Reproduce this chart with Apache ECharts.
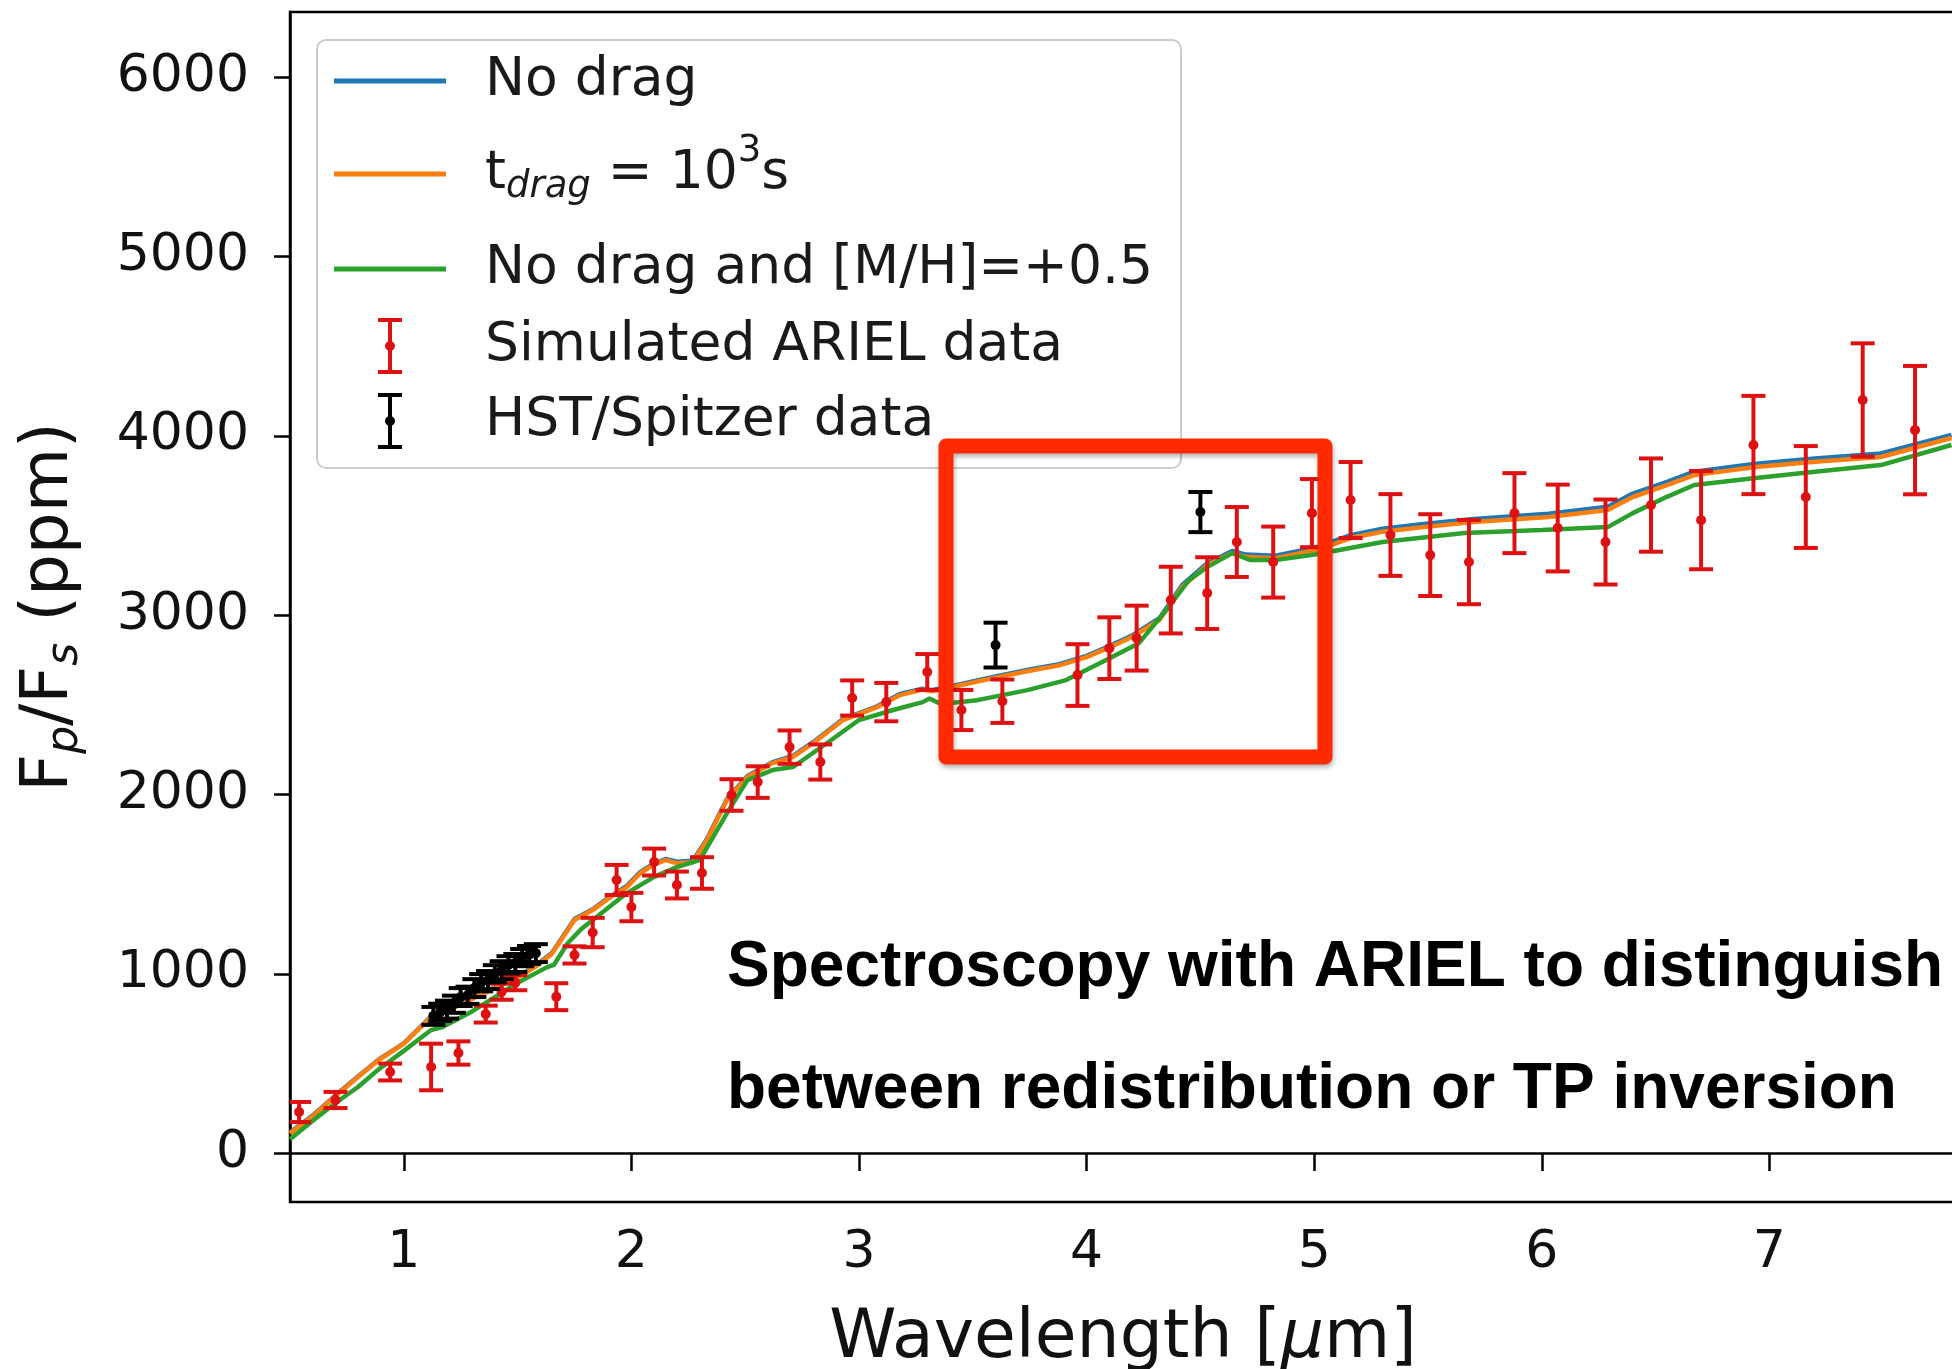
<!DOCTYPE html>
<html>
<head>
<meta charset="utf-8">
<script src="https://cdn.jsdelivr.net/npm/echarts@6/dist/echarts.min.js"></script>
<style>
html,body{margin:0;padding:0;background:#fff;}
#chart{width:1952px;height:1369px;}
</style>
</head>
<body>
<div id="chart"></div>
<script>
// ---------- tick labels ----------
const xTickValues = [1, 2, 3, 4, 5, 6, 7];
const yTickValues = [0, 1000, 2000, 3000, 4000, 5000, 6000];

// ---------- model: No drag (blue) ----------
const noDragWl = [0.50,0.60,0.70,0.80,0.89,1.00,1.12,1.20,1.30,1.40,1.50,1.58,1.65,1.75,1.83,1.90,1.98,2.04,2.10,2.15,2.20,2.27,2.33,2.42,2.51,2.62,2.71,2.80,2.93,3.08,3.18,3.28,3.32,3.41,3.59,3.75,3.88,4.00,4.10,4.20,4.32,4.42,4.53,4.64,4.70,4.83,5.01,5.16,5.30,5.48,5.70,6.03,6.29,6.40,6.55,6.67,6.94,7.20,7.49,7.80];
const noDragFlux = [115,210,322,428,522,612,762,805,866,925,985,1045,1115,1305,1360,1425,1490,1568,1615,1640,1625,1630,1748,1975,2103,2180,2215,2293,2420,2492,2560,2590,2582,2605,2655,2697,2727,2773,2828,2887,2983,3168,3290,3358,3338,3332,3378,3446,3482,3508,3537,3566,3605,3678,3744,3800,3845,3874,3902,4005];

// ---------- model: t_drag = 1e3 s (orange) ----------
const dragWl = [0.50,0.60,0.70,0.80,0.89,1.00,1.12,1.20,1.30,1.40,1.50,1.58,1.65,1.75,1.83,1.90,1.98,2.04,2.10,2.15,2.20,2.27,2.33,2.42,2.51,2.62,2.71,2.80,2.93,3.08,3.18,3.28,3.32,3.41,3.59,3.75,3.88,4.00,4.10,4.20,4.32,4.42,4.53,4.64,4.70,4.83,5.01,5.16,5.30,5.48,5.70,6.03,6.29,6.40,6.55,6.67,6.94,7.20,7.49,7.80];
const dragFlux = [110,205,318,425,519,610,758,800,860,920,980,1040,1110,1300,1355,1420,1483,1562,1610,1634,1617,1622,1740,1969,2097,2175,2209,2287,2415,2487,2554,2585,2575,2599,2649,2690,2720,2766,2820,2878,2973,3157,3279,3346,3324,3318,3363,3430,3465,3491,3519,3547,3586,3659,3725,3781,3826,3855,3882,3988];

// ---------- model: No drag and [M/H]=+0.5 (green) ----------
const metalWl = [0.50,0.60,0.70,0.80,0.886,1.00,1.12,1.17,1.30,1.40,1.50,1.63,1.66,1.72,1.78,1.83,1.98,2.10,2.20,2.30,2.42,2.51,2.62,2.71,2.86,3.00,3.15,3.28,3.31,3.36,3.52,3.74,3.91,4.06,4.23,4.35,4.45,4.53,4.64,4.72,4.83,5.01,5.30,5.66,6.00,6.29,6.40,6.55,6.67,6.94,7.20,7.49,7.80];
const metalFlux = [77,180,279,370,463,570,686,703,790,870,950,1037,1050,1170,1250,1300,1450,1540,1595,1634,1896,2080,2136,2153,2287,2415,2471,2515,2535,2505,2526,2582,2638,2733,2844,3028,3196,3268,3346,3307,3307,3340,3408,3458,3475,3491,3569,3660,3726,3765,3800,3837,3949];

// ---------- simulated ARIEL data (red) ----------
const arielWl   = [0.54,0.70,0.94,1.12,1.24,1.36,1.43,1.49,1.67,1.75,1.83,1.935,2.00,2.10,2.20,2.31,2.44,2.555,2.695,2.83,2.97,3.12,3.30,3.45,3.63,3.96,4.10,4.22,4.37,4.53,4.66,4.82,4.99,5.16,5.335,5.51,5.68,5.88,6.07,6.28,6.48,6.70,6.93,7.16,7.41,7.64];
const arielFlux = [229,296,452,480,558,775,900,950,872,1105,1230,1523,1372,1623,1495,1562,1997,2069,2264,2181,2538,2515,2683,2471,2520,2666,2816,2872,3084,3123,3408,3296,3569,3642,3447,3335,3296,3569,3486,3408,3614,3530,3949,3659,4200,4032];
const arielErr  = [56,45,47,130,65,47,45,42,75,48,82,84,79,75,75,88,88,88,93,98,98,107,100,112,121,172,172,181,186,200,195,198,190,212,228,228,235,223,242,237,260,274,274,284,316,358];

// ---------- HST / Spitzer data (black) ----------
const hstWl   = [1.13,1.16,1.19,1.22,1.25,1.28,1.31,1.34,1.37,1.40,1.43,1.46,1.49,1.52,1.55,1.58,3.60,4.50];
const hstFlux = [765,785,800,830,870,880,920,950,965,1000,1020,1050,1060,1090,1105,1115,2833,3575];
const hstErr  = [50,48,50,48,50,48,50,48,50,48,50,48,50,48,50,50,125,112];

// ---------- build chart ----------
const FONT = 'DejaVu Sans';
const pairs = (xs, ys) => xs.map((x, i) => [x, ys[i]]);
const triples = (xs, ys, es) => xs.map((x, i) => [x, ys[i], es[i]]);

function errRender(color) {
  return function (params, api) {
    const x = api.value(0), y = api.value(1), e = api.value(2);
    const c = api.coord([x, y]);
    const t = api.coord([x, y + e]);
    const b = api.coord([x, y - e]);
    const hw = 12;
    const st = () => ({ stroke: color, lineWidth: 4, fill: null });
    return {
      type: 'group',
      children: [
        { type: 'line', shape: { x1: c[0], y1: t[1], x2: c[0], y2: b[1] }, style: st() },
        { type: 'line', shape: { x1: c[0] - hw, y1: t[1], x2: c[0] + hw, y2: t[1] }, style: st() },
        { type: 'line', shape: { x1: c[0] - hw, y1: b[1], x2: c[0] + hw, y2: b[1] }, style: st() },
        { type: 'circle', shape: { cx: c[0], cy: c[1], r: 5 }, style: { fill: color } }
      ]
    };
  };
}

const lineIcon = 'path://M0,0M112,56M0,25.5L112,25.5L112,30.5L0,30.5Z';
const errIcon = 'path://M0,0M112,56M44,0L68,0L68,4L58,4L58,52L68,52L68,56L44,56L44,52L54,52L54,4L44,4ZM61,28A5,5,0,1,1,51,28A5,5,0,1,1,61,28Z';

const legendLabels = {
  'No drag': '{sp| }{r1|No drag}',
  'tdrag': '{sp| }{r2|t}{sub|drag}{r2| = 10}{sup|3}{r2|s}',
  'metal': '{sp| }{r3|No drag and [M/H]=+0.5}',
  'ariel': '{sp| }{r4|Simulated ARIEL data}',
  'hst': '{sp| }{r5|HST/Spitzer data}'
};

const blue = '#1f77b4', orange = '#ff7f0e', green = '#2ca02c', red = '#dd1111';
const LFS = 53.5;

const option = {
  animation: false,
  backgroundColor: '#ffffff',
  grid: {
    left: 290, top: 12, right: -4, bottom: 167,
    show: true, borderColor: '#000', borderWidth: 2.5,
    containLabel: false, outerBoundsMode: 'none'
  },
  xAxis: {
    type: 'value', min: 0.5, max: 7.82,
    name: '{m|Wavelength [}{i|μ}{m|m]}',
    nameLocation: 'middle', nameGap: 103, nameMoveOverlap: false,
    nameTextStyle: {
      rich: {
        m: { fontFamily: FONT, fontSize: 68, color: '#111' },
        i: { fontFamily: FONT, fontSize: 68, fontStyle: 'italic', color: '#111' }
      }
    },
    axisLine: { show: true, lineStyle: { color: '#000', width: 2.5 } },
    axisTick: { show: true, length: 18, lineStyle: { color: '#000', width: 2.5 }, customValues: xTickValues },
    axisLabel: { fontFamily: FONT, fontSize: 52, color: '#111', margin: 25, customValues: xTickValues,
                 formatter: v => String(v) },
    splitLine: { show: false }
  },
  yAxis: {
    type: 'value', min: -273, max: 6364,
    name: '{m|F}{s|p}{m|/F}{s|s}{m| (ppm)}',
    nameLocation: 'middle', nameRotate: 90, nameGap: 200, nameMoveOverlap: false,
    nameTextStyle: {
      rich: {
        m: { fontFamily: FONT, fontSize: 66, color: '#111', lineHeight: 80 },
        s: { fontFamily: FONT, fontSize: 44, fontStyle: 'italic', color: '#111', padding: [32, 0, 0, 0] }
      }
    },
    axisLine: { show: true, lineStyle: { color: '#000', width: 2.5 } },
    axisTick: { show: true, length: 16, lineStyle: { color: '#000', width: 2.5 }, customValues: yTickValues },
    axisLabel: { fontFamily: FONT, fontSize: 52, color: '#111', margin: 41, customValues: yTickValues,
                 formatter: v => String(v) },
    splitLine: { show: false }
  },
  legend: {
    orient: 'vertical', left: 317, top: 40,
    itemGap: 16, itemWidth: 112, itemHeight: 56,
    padding: [12, 28, 18, 17],
    backgroundColor: 'rgba(255,255,255,0.85)',
    borderColor: '#cccccc', borderWidth: 2, borderRadius: 9,
    selectedMode: false,
    data: [
      { name: 'No drag', icon: lineIcon, itemStyle: { color: blue, borderWidth: 0 } },
      { name: 'tdrag', icon: lineIcon, itemStyle: { color: orange, borderWidth: 0 } },
      { name: 'metal', icon: lineIcon, itemStyle: { color: green, borderWidth: 0 } },
      { name: 'ariel', icon: errIcon, itemStyle: { color: red, borderWidth: 0 } },
      { name: 'hst', icon: errIcon, itemStyle: { color: '#000', borderWidth: 0 } }
    ],
    formatter: function (n) { return legendLabels[n]; },
    textStyle: {
      fontFamily: FONT, fontSize: LFS, color: '#1a1a1a',
      backgroundColor: 'rgba(255,255,255,0)',
      rich: {
        sp: { width: 34, fontSize: 20 },
        r1: { fontFamily: FONT, fontSize: LFS, color: '#1a1a1a', lineHeight: 58 },
        r2: { fontFamily: FONT, fontSize: LFS, color: '#1a1a1a', lineHeight: 96 },
        sub: { fontFamily: FONT, fontSize: 37, fontStyle: 'italic', color: '#1a1a1a', padding: [26, 0, 0, 0] },
        sup: { fontFamily: FONT, fontSize: 37, color: '#1a1a1a', padding: [0, 0, 46, 0] },
        r3: { fontFamily: FONT, fontSize: LFS, color: '#1a1a1a', lineHeight: 62 },
        r4: { fontFamily: FONT, fontSize: LFS, color: '#1a1a1a', lineHeight: 60 },
        r5: { fontFamily: FONT, fontSize: LFS, color: '#1a1a1a', lineHeight: 58 }
      }
    }
  },
  series: [
    { name: 'No drag', type: 'line', data: pairs(noDragWl, noDragFlux), showSymbol: false, symbol: 'none',
      lineStyle: { color: blue, width: 4.5 }, itemStyle: { color: blue }, z: 2 },
    { name: 'tdrag', type: 'line', data: pairs(dragWl, dragFlux), showSymbol: false, symbol: 'none',
      lineStyle: { color: orange, width: 4.5 }, itemStyle: { color: orange }, z: 3 },
    { name: 'metal', type: 'line', data: pairs(metalWl, metalFlux), showSymbol: false, symbol: 'none',
      lineStyle: { color: green, width: 4.5 }, itemStyle: { color: green }, z: 4 },
    { name: 'ariel', type: 'custom', data: triples(arielWl, arielFlux, arielErr),
      encode: { x: 0, y: 1 }, renderItem: errRender(red), itemStyle: { color: red }, z: 5, clip: true },
    { name: 'hst', type: 'custom', data: triples(hstWl, hstFlux, hstErr),
      encode: { x: 0, y: 1 }, renderItem: errRender('#000'), itemStyle: { color: '#000' }, z: 6, clip: true }
  ],
  graphic: [
    { type: 'rect', z: 100,
      shape: { x: 946, y: 446, width: 379, height: 311 },
      style: { fill: 'none', stroke: '#ff2a00', lineWidth: 15, lineJoin: 'round',
               shadowBlur: 5, shadowOffsetX: 1, shadowOffsetY: 3, shadowColor: 'rgba(0,0,0,0.3)' } },
    { type: 'text', z: 100, x: 727, y: 1029,
      style: { text: 'Spectroscopy with ARIEL to distinguish\nbetween redistribution or TP inversion',
               fontFamily: 'Liberation Sans', fontWeight: 'bold', fontSize: 64, lineHeight: 122,
               fill: '#000', textAlign: 'left', textVerticalAlign: 'middle', verticalAlign: 'middle' } }
  ]
};

const chart = echarts.init(document.getElementById('chart'), null, { renderer: 'canvas' });
chart.setOption(option);
</script>
</body>
</html>
